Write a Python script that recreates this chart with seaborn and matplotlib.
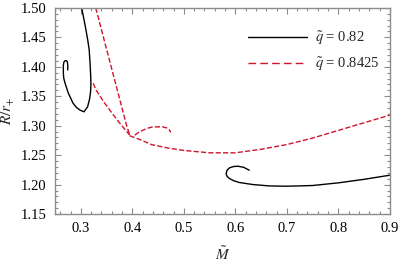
import matplotlib
matplotlib.use("Agg")
import matplotlib.pyplot as plt
import seaborn as sns
import pandas as pd
from matplotlib.ticker import MultipleLocator, FormatStrFormatter
from matplotlib.lines import Line2D

# q = 0.82 (black), two pieces
black_a_m = [0.3016, 0.306, 0.310, 0.3135, 0.3163, 0.3180, 0.3192, 0.3196, 0.3190, 0.3172, 0.3132, 0.3061,
             0.2984, 0.2910, 0.2848, 0.2757, 0.2693, 0.2668, 0.2661, 0.2661, 0.2672, 0.2693, 0.2718,
             0.2738, 0.2748, 0.2746]
black_a_r = [1.500, 1.481, 1.4626, 1.445, 1.4286, 1.405, 1.385, 1.370, 1.358, 1.346, 1.3322, 1.3236,
             1.3265, 1.3315, 1.3384, 1.3554, 1.3724, 1.381, 1.3895, 1.4031, 1.4080, 1.4104, 1.4104,
             1.4087, 1.402, 1.3946]
black_b_m = [0.627, 0.616, 0.6046, 0.596, 0.5885, 0.5840, 0.5821, 0.5840, 0.5885, 0.5970, 0.6078,
             0.6336, 0.6659, 0.6982, 0.7239, 0.750, 0.800, 0.850, 0.900]
black_b_r = [1.2245, 1.2295, 1.2313, 1.2306, 1.2284, 1.2245, 1.2189, 1.2140, 1.2104, 1.2066, 1.2036,
             1.2002, 1.1978, 1.1973, 1.1978, 1.1985, 1.2030, 1.2090, 1.2160]

# q = 0.8425 (red dashed), swallowtail pieces
red_a_m = [0.329, 0.344, 0.359, 0.374, 0.389, 0.395]
red_a_r = [1.500, 1.450, 1.400, 1.350, 1.300, 1.284]
red_b_m = [0.324, 0.330, 0.345, 0.360, 0.375, 0.395]
red_b_r = [1.372, 1.360, 1.340, 1.322, 1.305, 1.284]
red_c_m = [0.395, 0.4177, 0.437, 0.470, 0.500, 0.550, 0.600, 0.650, 0.700, 0.750, 0.800, 0.850, 0.900]
red_c_r = [1.283, 1.2755, 1.268, 1.262, 1.258, 1.254, 1.254, 1.260, 1.268, 1.279, 1.292, 1.305, 1.318]
red_d_m = [0.4047, 0.4120, 0.4208, 0.4300, 0.4401, 0.4595, 0.4680, 0.4724, 0.4740, 0.4730]
red_d_r = [1.2840, 1.2885, 1.2925, 1.2958, 1.2981, 1.2980, 1.2960, 1.2925, 1.2900, 1.2890]

labels = [r"$\tilde{q}$ = 0.82", r"$\tilde{q}$ = 0.8425"]
RED = "#d0142c"
FRAME = "#8c8c8c"

sns.set_style("ticks")
plt.rcParams["font.family"] = ["Liberation Serif", "DejaVu Serif"]
plt.rcParams["mathtext.fontset"] = "stix"

fig = plt.figure(figsize=(3.99, 2.63), dpi=100)
ax = fig.add_axes([0.138, 0.186, 0.839, 0.784])

segments = [
    (black_a_m, black_a_r, "k", "-"),
    (black_b_m, black_b_r, "k", "-"),
    (red_a_m, red_a_r, RED, "--"),
    (red_b_m, red_b_r, RED, "--"),
    (red_c_m, red_c_r, RED, "--"),
    (red_d_m, red_d_r, RED, "--"),
]
for m, r, col, ls in segments:
    df = pd.DataFrame({"M": m, "R": r})
    kw = dict(dashes=(5.5, 3)) if ls == "--" else {}
    sns.lineplot(data=df, x="M", y="R", sort=False, estimator=None, ax=ax,
                 color=col, lw=1.0, linestyle=ls, **kw)

ax.set_xlim(0.25, 0.9)
ax.set_ylim(1.15, 1.50)
ax.xaxis.set_major_locator(MultipleLocator(0.1))
ax.xaxis.set_minor_locator(MultipleLocator(0.02))
ax.yaxis.set_major_locator(MultipleLocator(0.05))
ax.yaxis.set_minor_locator(MultipleLocator(0.01))
ax.xaxis.set_major_formatter(FormatStrFormatter("%.1f"))
ax.yaxis.set_major_formatter(FormatStrFormatter("%.2f"))
ax.tick_params(which="both", direction="in", top=True, right=True, color=FRAME,
               labelsize=10.5, labelcolor="black", width=0.8)
ax.tick_params(which="major", length=4, pad=6)
ax.tick_params(which="minor", length=2)
for s in ax.spines.values():
    s.set_color(FRAME)
    s.set_linewidth(1.0)

ax.set_xlabel(r"$\tilde{M}$", fontsize=11, labelpad=7)
ax.set_ylabel(r"$R/r_{+}$", fontsize=11, labelpad=3)

handles = [Line2D([], [], color="k", lw=1.0),
           Line2D([], [], color=RED, lw=1.0, linestyle="--", dashes=(5.5, 3))]
ax.legend(handles, labels, loc="upper right", frameon=False, fontsize=10.5,
          handlelength=4.0, handletextpad=0.6, bbox_to_anchor=(1.01, 0.96), labelspacing=0.6)

fig.savefig("out.png", dpi=100)
